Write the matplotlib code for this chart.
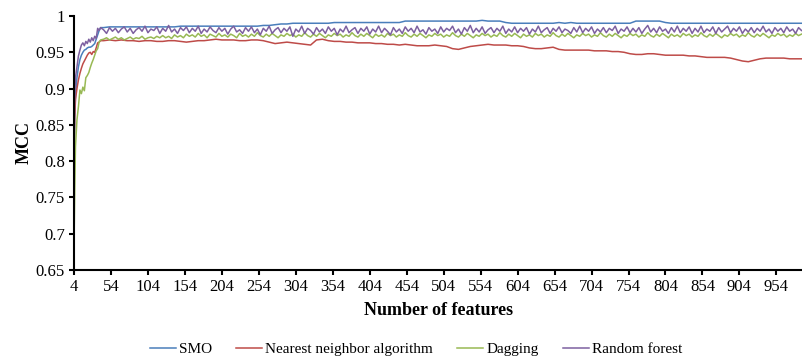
import numpy as np
import matplotlib
matplotlib.use("Agg")
import matplotlib.pyplot as plt

# =============================
# Data
# =============================
# first features are sampled densely (steep rise); smooth curves every 8
# features after that, the two noisy curves every 4 features
head_features = [4, 5, 6, 8, 10, 12, 14, 16, 18, 20, 22, 24, 26, 28, 30, 32, 34, 36, 38, 40]
smooth_features = head_features + list(range(44, 989, 8))
noisy_features = head_features + list(range(44, 989, 4))

smo = [
    0.790, 0.860, 0.890, 0.915, 0.930, 0.940, 0.946, 0.950, 0.953, 0.954,
    0.956, 0.957, 0.957, 0.958, 0.960, 0.962, 0.968, 0.974, 0.980, 0.984,
    # tail
    0.984, 0.985, 0.985, 0.985, 0.985, 0.985, 0.985, 0.985, 0.985, 0.985,
    0.985, 0.985, 0.985, 0.986, 0.986, 0.986, 0.986, 0.986, 0.986, 0.986,
    0.986, 0.986, 0.986, 0.986, 0.986, 0.986, 0.986, 0.987, 0.987, 0.988,
    0.989, 0.989, 0.990, 0.990, 0.990, 0.990, 0.990, 0.990, 0.990, 0.991,
    0.991, 0.991, 0.991, 0.991, 0.991, 0.991, 0.991, 0.991, 0.991, 0.991,
    0.991, 0.993, 0.993, 0.993, 0.993, 0.993, 0.993, 0.993, 0.993, 0.993,
    0.993, 0.993, 0.993, 0.993, 0.994, 0.993, 0.993, 0.993, 0.991, 0.990,
    0.990, 0.990, 0.990, 0.990, 0.990, 0.990, 0.990, 0.991, 0.990, 0.991,
    0.990, 0.990, 0.990, 0.990, 0.990, 0.990, 0.990, 0.990, 0.990, 0.990,
    0.993, 0.993, 0.993, 0.993, 0.993, 0.991, 0.990, 0.990, 0.990, 0.990,
    0.990, 0.990, 0.990, 0.990, 0.990, 0.990, 0.990, 0.990, 0.990, 0.990,
    0.990, 0.990, 0.990, 0.990, 0.990, 0.990, 0.990, 0.990, 0.990,
]

nearest = [
    0.800, 0.860, 0.885, 0.900, 0.912, 0.921, 0.928, 0.934, 0.938, 0.942,
    0.946, 0.949, 0.950, 0.947, 0.951, 0.950, 0.956, 0.963, 0.964, 0.966,
    # tail
    0.966, 0.967, 0.966, 0.967, 0.966, 0.966, 0.965, 0.966, 0.966, 0.965,
    0.965, 0.966, 0.966, 0.965, 0.964, 0.965, 0.966, 0.966, 0.967, 0.968,
    0.967, 0.967, 0.967, 0.966, 0.966, 0.967, 0.967, 0.966, 0.964, 0.962,
    0.963, 0.964, 0.963, 0.962, 0.961, 0.960, 0.967, 0.968, 0.966, 0.965,
    0.965, 0.964, 0.964, 0.963, 0.963, 0.963, 0.962, 0.962, 0.961, 0.961,
    0.960, 0.961, 0.960, 0.959, 0.959, 0.959, 0.960, 0.959, 0.958, 0.955,
    0.954, 0.956, 0.958, 0.959, 0.960, 0.961, 0.960, 0.960, 0.960, 0.959,
    0.959, 0.958, 0.956, 0.955, 0.955, 0.956, 0.957, 0.954, 0.953, 0.953,
    0.953, 0.953, 0.953, 0.952, 0.952, 0.952, 0.951, 0.951, 0.950, 0.948,
    0.947, 0.947, 0.948, 0.948, 0.947, 0.946, 0.946, 0.946, 0.946, 0.945,
    0.945, 0.944, 0.943, 0.943, 0.943, 0.943, 0.942, 0.940, 0.938, 0.937,
    0.939, 0.941, 0.942, 0.942, 0.942, 0.942, 0.941, 0.941, 0.941,
]

dagging = [
    0.683, 0.760, 0.820, 0.857, 0.875, 0.898, 0.893, 0.902, 0.897, 0.915,
    0.918, 0.922, 0.929, 0.935, 0.940, 0.946, 0.952, 0.955, 0.964, 0.967,
    # tail
    0.968, 0.970, 0.967, 0.969, 0.971, 0.968, 0.970, 0.967, 0.969, 0.971,
    0.968, 0.970, 0.969, 0.972, 0.968, 0.970, 0.971, 0.969, 0.972, 0.970,
    0.973, 0.970, 0.972, 0.969, 0.974, 0.971, 0.973, 0.970, 0.975, 0.972,
    0.974, 0.971, 0.976, 0.972, 0.974, 0.970, 0.975, 0.973, 0.971, 0.976,
    0.972, 0.974, 0.971, 0.975, 0.973, 0.970, 0.976, 0.972, 0.974, 0.971,
    0.975, 0.972, 0.977, 0.973, 0.971, 0.975, 0.972, 0.976, 0.973, 0.970,
    0.974, 0.972, 0.976, 0.973, 0.975, 0.971, 0.974, 0.972, 0.977, 0.973,
    0.971, 0.975, 0.972, 0.976, 0.973, 0.970, 0.974, 0.972, 0.976, 0.973,
    0.975, 0.971, 0.974, 0.972, 0.977, 0.973, 0.971, 0.975, 0.972, 0.976,
    0.973, 0.970, 0.975, 0.972, 0.974, 0.971, 0.976, 0.973, 0.975, 0.971,
    0.974, 0.972, 0.977, 0.973, 0.971, 0.975, 0.972, 0.976, 0.973, 0.970,
    0.974, 0.972, 0.976, 0.973, 0.975, 0.971, 0.974, 0.972, 0.977, 0.973,
    0.971, 0.975, 0.972, 0.976, 0.973, 0.970, 0.974, 0.972, 0.976, 0.973,
    0.975, 0.971, 0.974, 0.972, 0.977, 0.973, 0.971, 0.975, 0.972, 0.976,
    0.973, 0.970, 0.975, 0.972, 0.974, 0.971, 0.976, 0.973, 0.975, 0.971,
    0.974, 0.972, 0.977, 0.973, 0.971, 0.975, 0.972, 0.976, 0.973, 0.970,
    0.974, 0.972, 0.976, 0.973, 0.975, 0.971, 0.974, 0.972, 0.977, 0.973,
    0.971, 0.975, 0.972, 0.976, 0.973, 0.970, 0.974, 0.972, 0.976, 0.973,
    0.975, 0.971, 0.974, 0.972, 0.977, 0.973, 0.971, 0.975, 0.972, 0.976,
    0.973, 0.970, 0.975, 0.972, 0.974, 0.971, 0.976, 0.973, 0.975, 0.971,
    0.974, 0.972, 0.977, 0.973, 0.971, 0.975, 0.972, 0.976, 0.973, 0.970,
    0.974, 0.972, 0.976, 0.973, 0.975, 0.971, 0.974, 0.972, 0.977, 0.973,
    0.971, 0.975, 0.972, 0.976, 0.973, 0.970, 0.974, 0.972, 0.976, 0.973,
    0.975, 0.971, 0.974, 0.972, 0.976, 0.973, 0.975,
]

random_forest = [
    0.850, 0.890, 0.915, 0.930, 0.945, 0.953, 0.960, 0.963, 0.959, 0.965,
    0.962, 0.968, 0.964, 0.970, 0.966, 0.972, 0.969, 0.983, 0.980, 0.984,
    # tail
    0.981, 0.976, 0.984, 0.979, 0.983, 0.977, 0.982, 0.985, 0.978, 0.983,
    0.976, 0.981, 0.984, 0.979, 0.986, 0.977, 0.982, 0.980, 0.985, 0.976,
    0.983, 0.979, 0.987, 0.978, 0.982, 0.976, 0.984, 0.980, 0.985, 0.977,
    0.983, 0.979, 0.986, 0.976, 0.982, 0.978, 0.985, 0.980, 0.977, 0.984,
    0.979, 0.983, 0.975, 0.982, 0.986, 0.978, 0.981, 0.976, 0.984, 0.979,
    0.985, 0.977, 0.982, 0.974, 0.983, 0.979, 0.986, 0.976, 0.981, 0.984,
    0.977, 0.983, 0.979, 0.985, 0.972, 0.982, 0.978, 0.986, 0.976, 0.983,
    0.980, 0.975, 0.984, 0.978, 0.982, 0.976, 0.985, 0.979, 0.983, 0.974,
    0.982, 0.978, 0.986, 0.977, 0.981, 0.984, 0.976, 0.983, 0.979, 0.985,
    0.975, 0.982, 0.978, 0.986, 0.977, 0.983, 0.979, 0.974, 0.984, 0.978,
    0.982, 0.976, 0.985, 0.979, 0.983, 0.977, 0.986, 0.978, 0.981, 0.975,
    0.984, 0.979, 0.982, 0.976, 0.985, 0.978, 0.983, 0.980, 0.986, 0.977,
    0.982, 0.975, 0.984, 0.979, 0.987, 0.977, 0.983, 0.978, 0.985, 0.976,
    0.981, 0.984, 0.977, 0.983, 0.979, 0.986, 0.976, 0.982, 0.978, 0.985,
    0.977, 0.983, 0.979, 0.984, 0.975, 0.982, 0.978, 0.986, 0.977, 0.981,
    0.984, 0.976, 0.983, 0.979, 0.985, 0.977, 0.982, 0.980, 0.976, 0.984,
    0.978, 0.986, 0.977, 0.983, 0.979, 0.985, 0.976, 0.982, 0.978, 0.984,
    0.977, 0.983, 0.980, 0.986, 0.976, 0.982, 0.979, 0.985, 0.977, 0.983,
    0.978, 0.984, 0.976, 0.982, 0.987, 0.978, 0.983, 0.977, 0.985, 0.979,
    0.982, 0.976, 0.984, 0.978, 0.986, 0.977, 0.983, 0.979, 0.985, 0.976,
    0.983, 0.978, 0.986, 0.977, 0.982, 0.979, 0.985, 0.976, 0.984, 0.978,
    0.982, 0.986, 0.977, 0.983, 0.979, 0.985, 0.976, 0.982, 0.978, 0.984,
    0.977, 0.983, 0.979, 0.986, 0.978, 0.982, 0.976, 0.984, 0.979, 0.983,
    0.977, 0.985, 0.979, 0.982, 0.976, 0.984, 0.980,
]

series_names = ["SMO", "Nearest neighbor algorithm", "Dagging", "Random forest"]
series_colors = ["#4a7ebb", "#be4b48", "#98b954", "#7d60a0"]

x_ticks = list(range(4, 955, 50))
y_ticks = [0.65, 0.7, 0.75, 0.8, 0.85, 0.9, 0.95, 1.0]
y_tick_labels = ["0.65", "0.7", "0.75", "0.8", "0.85", "0.9", "0.95", "1"]

# =============================
# Plot
# =============================
plt.rcParams["font.family"] = ["Liberation Serif", "DejaVu Serif"]

fig = plt.figure(figsize=(8.03, 3.6), dpi=100)
ax = fig.add_axes([74 / 803, 90 / 360, 729 / 803, 254 / 360])

series_x = [smooth_features, smooth_features, noisy_features, noisy_features]
series_y = [smo, nearest, dagging, random_forest]
for name, xs, ys, col in zip(series_names, series_x, series_y, series_colors):
    ax.plot(xs, ys, color=col, lw=1.1, label=name)

ax.set_xlim(4, 990)
ax.set_ylim(0.65, 1.0)
ax.set_xticks(x_ticks)
ax.set_xticklabels([str(t) for t in x_ticks], fontsize=12)
ax.set_yticks(y_ticks)
ax.set_yticklabels(y_tick_labels, fontsize=12)

for side in ["top", "right"]:
    ax.spines[side].set_visible(False)
for side in ["left", "bottom"]:
    ax.spines[side].set_linewidth(1.5)
ax.tick_params(axis="both", direction="out", length=3.5, width=1.5, pad=3)

ax.set_xlabel("Number of features", fontsize=13, fontweight="bold", labelpad=5)
ax.set_ylabel("MCC", fontsize=13, fontweight="bold", labelpad=2)

fig.legend(loc="center", bbox_to_anchor=(416 / 803, 11 / 360), ncol=4, frameon=False,
           fontsize=11, handlelength=1.7, columnspacing=1.6, handletextpad=0.2)

fig.savefig("out.png", dpi=100)
